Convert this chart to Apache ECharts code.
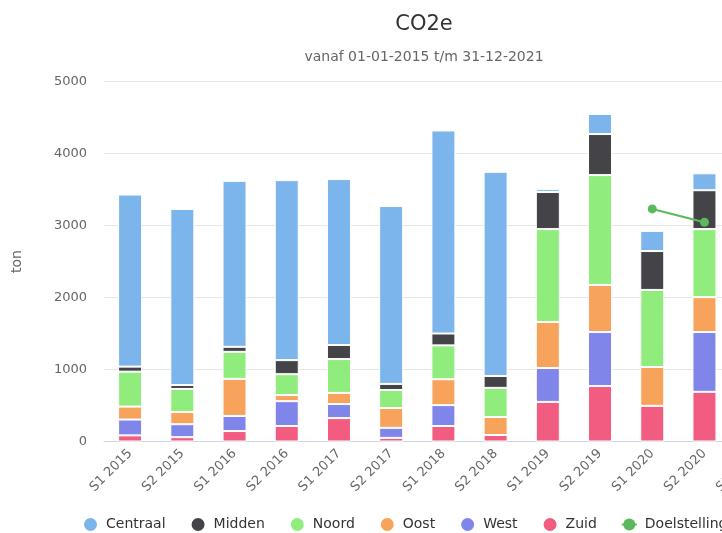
<!DOCTYPE html>
<html>
<head>
<meta charset="utf-8">
<script src="https://cdn.jsdelivr.net/npm/echarts@6/dist/echarts.min.js"></script>
<style>
html,body{margin:0;padding:0;overflow:hidden;background:#fff;width:722px;height:533px;}
#chart{width:848px;height:533px;}
</style>
</head>
<body>
<div id="chart"></div>
<script>
var categories = ['S1 2015','S2 2015','S1 2016','S2 2016','S1 2017','S2 2017','S1 2018','S2 2018','S1 2019','S2 2019','S1 2020','S2 2020','S1 2021','S2 2021'];
var yTicks = [0, 1000, 2000, 3000, 4000, 5000];
var centraal = [2390, 2445, 2305, 2500, 2305, 2470, 2820, 2835, 40, 280, 280, 235, null, null];
var midden   = [70, 55, 70, 195, 195, 85, 165, 165, 515, 570, 540, 540, null, null];
var noord    = [485, 320, 375, 290, 470, 250, 470, 405, 1290, 1525, 1070, 945, null, null];
var oost     = [180, 170, 515, 85, 155, 275, 360, 250, 640, 655, 540, 485, null, null];
var west     = [220, 180, 210, 345, 195, 140, 290, null, 470, 750, null, 830, null, null];
var zuid     = [85, 60, 145, 215, 325, 50, 215, 90, 550, 770, 495, 690, null, null];
var doelstelling = [null, null, null, null, null, null, null, null, null, null, 3230, 3045, null, null];

var colors = {
  Centraal: '#7cb5ec', Midden: '#434348', Noord: '#90ed7d',
  Oost: '#f7a35c', West: '#8085e9', Zuid: '#f15c80', Doelstelling: '#5cb85c'
};
var font = 'DejaVu Sans';

function barSeries(name, data) {
  return {
    name: name, type: 'bar', stack: 'total', data: data,
    barWidth: 24,
    itemStyle: { color: colors[name], borderColor: '#ffffff', borderWidth: 1 },
    emphasis: { disabled: true }
  };
}

var chart = echarts.init(document.getElementById('chart'), null, { renderer: 'canvas' });
chart.setOption({
  animation: false,
  textStyle: { fontFamily: font },
  title: {
    text: 'CO2e',
    subtext: 'vanaf 01-01-2015 t/m 31-12-2021',
    left: 'center', top: 9, itemGap: 15,
    textStyle: { fontFamily: font, fontSize: 21, fontWeight: 'normal', color: '#333333' },
    subtextStyle: { fontFamily: font, fontSize: 14, color: '#666666' }
  },
  legend: {
    top: 511, left: 77,
    data: [
      { name: 'Centraal', icon: 'circle' }, { name: 'Midden', icon: 'circle' },
      { name: 'Noord', icon: 'circle' }, { name: 'Oost', icon: 'circle' },
      { name: 'West', icon: 'circle' }, { name: 'Zuid', icon: 'circle' },
      { name: 'Doelstelling' }
    ],
    itemWidth: 15, itemHeight: 15, itemGap: 24,
    textStyle: { fontFamily: font, fontSize: 14, color: '#333333', padding: [0, 0, 0, 3] }
  },
  grid: { left: 104, right: 13, top: 81.5, bottom: 91.5, containLabel: false },
  xAxis: {
    type: 'category', data: categories,
    axisLine: { lineStyle: { color: '#ccd6eb' } },
    axisTick: { show: false },
    axisLabel: { rotate: 45, fontSize: 13, color: '#666666', fontFamily: font, margin: 10, interval: 0 }
  },
  yAxis: {
    type: 'value', min: yTicks[0], max: yTicks[yTicks.length - 1], interval: 1000,
    name: 'ton', nameLocation: 'middle', nameGap: 80, nameRotate: 90,
    nameTextStyle: { fontFamily: font, fontSize: 14, color: '#666666' },
    axisLine: { show: false }, axisTick: { show: false },
    axisLabel: { fontSize: 13, color: '#666666', fontFamily: font, margin: 17,
      formatter: function (v) { return String(v); } },
    splitLine: { lineStyle: { color: '#e6e6e6' } }
  },
  series: [
    barSeries('Zuid', zuid),
    barSeries('West', west),
    barSeries('Oost', oost),
    barSeries('Noord', noord),
    barSeries('Midden', midden),
    barSeries('Centraal', centraal),
    {
      name: 'Doelstelling', type: 'line', data: doelstelling, z: 10,
      symbol: 'circle', symbolSize: 9, showSymbol: true,
      lineStyle: { color: colors.Doelstelling, width: 2 },
      itemStyle: { color: colors.Doelstelling },
      emphasis: { disabled: true }
    }
  ]
});
</script>
</body>
</html>
